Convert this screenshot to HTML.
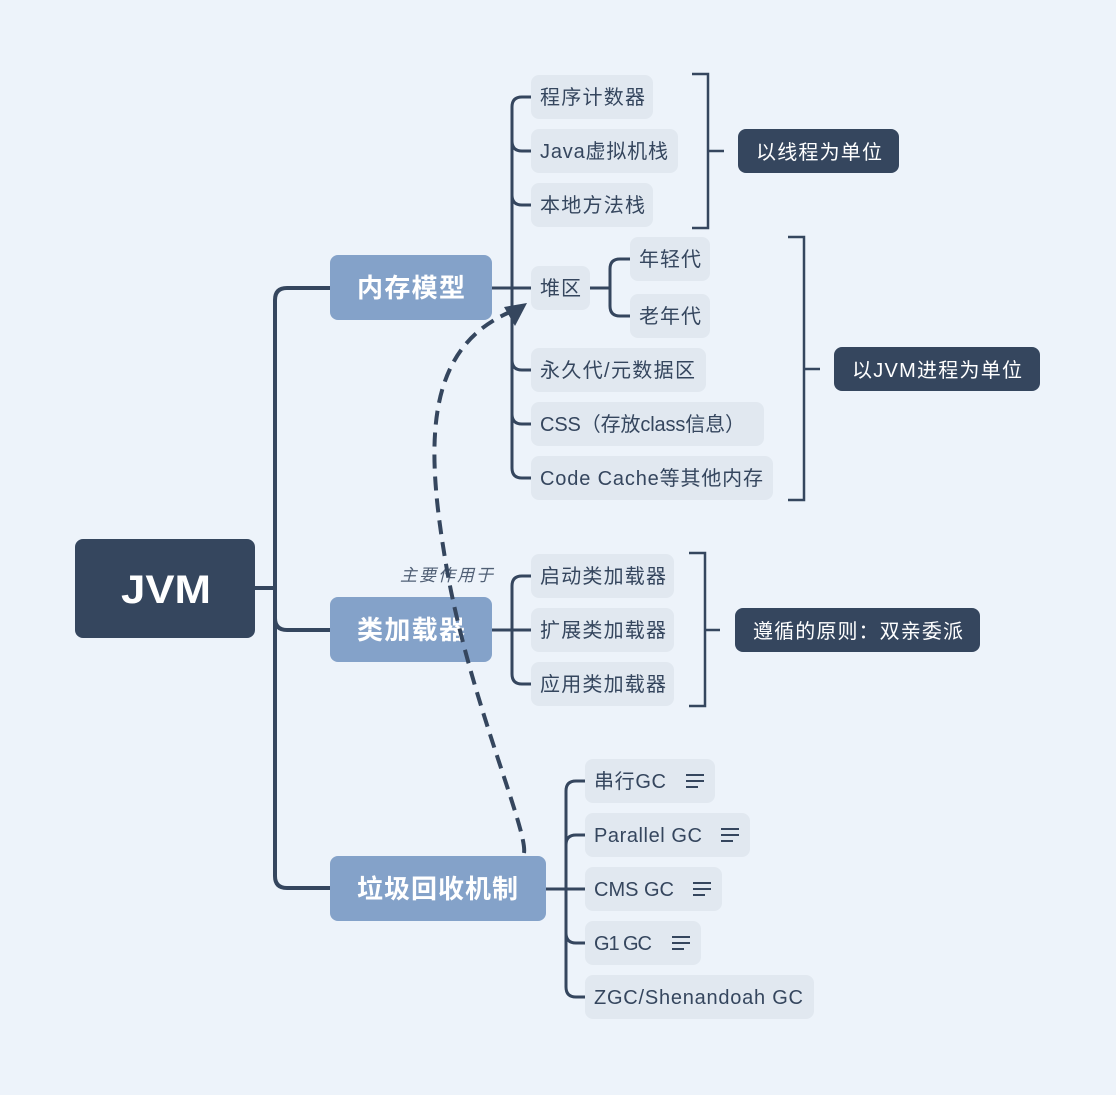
<!DOCTYPE html>
<html><head><meta charset="utf-8"><style>
html,body{margin:0;padding:0;background:#EDF3FA;}
svg{display:block;font-family:"Liberation Sans","Noto Sans CJK SC",sans-serif;}
.it{fill:#E1E8F0}
.t{fill:#35465E;font-size:20px}
.l{stroke:#35465E;stroke-width:3;fill:none}
.b{stroke:#35465E;stroke-width:2.5;fill:none}
</style></head><body>
<svg width="1116" height="1095" viewBox="0 0 1116 1095">
<rect width="1116" height="1095" fill="#EDF3FA"/>
<path class="l" d="M255,588 H275 M330,288 H287 Q275,288 275,300 V876 Q275,888 287,888 H330 M275,618 Q275,630 287,630 H330" style="stroke-width:4"/>
<rect x="75" y="539" width="180" height="99" rx="8" fill="#35465E"/>
<text x="121" y="603" fill="#fff" font-size="40" font-weight="bold" textLength="90" lengthAdjust="spacingAndGlyphs">JVM</text>

<rect x="330" y="255" width="162" height="65" rx="8" fill="#84A2C9"/>
<text x="357" y="297" fill="#fff" font-size="26" font-weight="bold" textLength="108">内存模型</text>
<rect x="330" y="597" width="162" height="65" rx="8" fill="#84A2C9"/>
<text x="357" y="639" fill="#fff" font-size="26" font-weight="bold" textLength="108">类加载器</text>
<rect x="330" y="856" width="216" height="65" rx="8" fill="#84A2C9"/>
<text x="357" y="898" fill="#fff" font-size="26" font-weight="bold" textLength="161">垃圾回收机制</text>

<path class="l" d="M492,288 H531 M531,97 H522 Q512,97 512,107 V468 Q512,478 522,478 H531 M512,141 Q512,151 522,151 H531 M512,195 Q512,205 522,205 H531 M512,360 Q512,370 522,370 H531 M512,414 Q512,424 522,424 H531"/>
<rect class="it" x="531" y="75" width="122" height="44" rx="8"/><text class="t" x="540" y="104" textLength="105">程序计数器</text>
<rect class="it" x="531" y="129" width="147" height="44" rx="8"/><text class="t" x="540" y="158" textLength="128">Java虚拟机栈</text>
<rect class="it" x="531" y="183" width="122" height="44" rx="8"/><text class="t" x="540" y="212" textLength="105">本地方法栈</text>
<rect class="it" x="531" y="266" width="59" height="44" rx="8"/><text class="t" x="540" y="295" textLength="41">堆区</text>
<rect class="it" x="531" y="348" width="175" height="44" rx="8"/><text class="t" x="540" y="377" textLength="155">永久代/元数据区</text>
<rect class="it" x="531" y="402" width="233" height="44" rx="8"/><text class="t" x="540" y="431" textLength="205">CSS（存放class信息）</text>
<rect class="it" x="531" y="456" width="242" height="44" rx="8"/><text class="t" x="540" y="485" textLength="223">Code Cache等其他内存</text>
<path class="l" d="M590,288 H610 M630,259 H620 Q610,259 610,269 V306 Q610,316 620,316 H630"/>
<rect class="it" x="630" y="237" width="80" height="44" rx="8"/><text class="t" x="639" y="266" textLength="62">年轻代</text>
<rect class="it" x="630" y="294" width="80" height="44" rx="8"/><text class="t" x="639" y="323" textLength="62">老年代</text>
<path class="b" d="M692,74 H708 V228 H692 M708,151 H724"/>
<rect x="738" y="129" width="161" height="44" rx="8" fill="#35465E"/><text x="756" y="159" fill="#fff" font-size="20" textLength="126">以线程为单位</text>
<path class="b" d="M788,237 H804 V500 H788 M804,369 H820"/>
<rect x="834" y="347" width="206" height="44" rx="8" fill="#35465E"/><text x="852" y="377" fill="#fff" font-size="20" textLength="170">以JVM进程为单位</text>

<path class="l" d="M492,630 H531 M531,576 H522 Q512,576 512,586 V674 Q512,684 522,684 H531"/>
<rect class="it" x="531" y="554" width="143" height="44" rx="8"/><text class="t" x="540" y="583" textLength="126">启动类加载器</text>
<rect class="it" x="531" y="608" width="143" height="44" rx="8"/><text class="t" x="540" y="637" textLength="126">扩展类加载器</text>
<rect class="it" x="531" y="662" width="143" height="44" rx="8"/><text class="t" x="540" y="691" textLength="126">应用类加载器</text>
<path class="b" d="M689,553 H705 V706 H689 M705,630 H720"/>
<rect x="735" y="608" width="245" height="44" rx="8" fill="#35465E"/><text x="753" y="638" fill="#fff" font-size="20" textLength="210">遵循的原则：双亲委派</text>

<path class="l" d="M546,889 H585 M585,781 H576 Q566,781 566,791 V987 Q566,997 576,997 H585 M566,845 Q566,835 576,835 H585 M566,933 Q566,943 576,943 H585"/>
<rect class="it" x="585" y="759" width="130" height="44" rx="8"/><text class="t" x="594" y="788" textLength="72">串行GC</text>
<rect class="it" x="585" y="813" width="165" height="44" rx="8"/><text class="t" x="594" y="842" textLength="108">Parallel GC</text>
<rect class="it" x="585" y="867" width="137" height="44" rx="8"/><text class="t" x="594" y="896" textLength="80">CMS GC</text>
<rect class="it" x="585" y="921" width="116" height="44" rx="8"/><text class="t" x="594" y="950" textLength="58">G1 GC</text>
<rect class="it" x="585" y="975" width="229" height="44" rx="8"/><text class="t" x="594" y="1004" textLength="209">ZGC/Shenandoah GC</text>
<g stroke="#35465E" stroke-width="2">
<path d="M686,775 H704 M686,781 H704 M686,787 H698"/>
<path d="M721,829 H739 M721,835 H739 M721,841 H733"/>
<path d="M693,883 H711 M693,889 H711 M693,895 H705"/>
<path d="M672,937 H690 M672,943 H690 M672,949 H684"/>
</g>

<path d="M524,853 C528,830 470,700 447,570 C426,450 422,350 510,312" fill="none" stroke="#35465E" stroke-width="4" stroke-dasharray="14,8"/>
<path d="M527,303 L504,307 L515,326 Z" fill="#35465E"/>
<text x="400" y="581" fill="#35465E" font-size="17" font-style="italic" opacity="0.85" textLength="93">主要作用于</text>
</svg>
</body></html>
